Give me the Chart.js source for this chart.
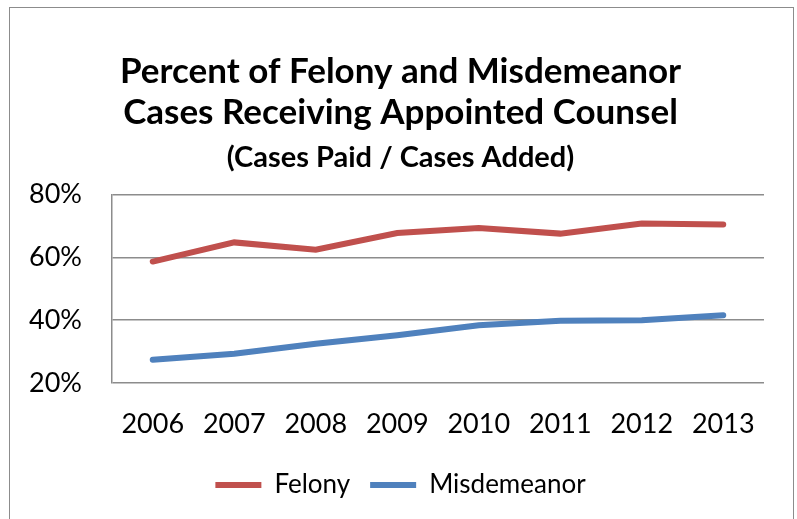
<!DOCTYPE html>
<html>
<head>
<meta charset="utf-8">
<script src="https://cdn.jsdelivr.net/npm/chart.js@4"></script>
<style>
  html, body { margin: 0; padding: 0; background: #fff; }
  #wrap { position: relative; width: 797px; height: 519px; overflow: hidden; }
  #frame { position: absolute; left: 9px; top: 7px; width: 783px; height: 540px; border: 1.5px solid #8c8c8c; }
  #myChart { position: absolute; left: 0; top: 0; }
</style>
</head>
<body>
<div id="wrap">
  <div id="frame"></div>
  <canvas id="myChart" width="797" height="519"></canvas>
</div>
<script>
// chart data
const years = ['2006', '2007', '2008', '2009', '2010', '2011', '2012', '2013'];
const felony = [58.7, 64.8, 62.5, 67.8, 69.4, 67.6, 70.8, 70.5];
const misdemeanor = [27.4, 29.3, 32.5, 35.2, 38.4, 39.8, 40.0, 41.6];
const yTicks = [20, 40, 60, 80];

const font = 'Lato, "DejaVu Sans", sans-serif';

let ctx = document.getElementById('myChart').getContext('2d');
let myChart = new Chart(ctx, {
  type: 'line',
  data: {
    labels: years,
    datasets: [
      {
        label: 'Felony',
        data: felony,
        borderColor: '#C0504D',
        backgroundColor: '#C0504D',
        borderWidth: 6,
        borderCapStyle: 'round',
        pointRadius: 0,
        tension: 0,
      },
      {
        label: 'Misdemeanor',
        data: misdemeanor,
        borderColor: '#4F81BD',
        backgroundColor: '#4F81BD',
        borderWidth: 6,
        borderCapStyle: 'round',
        pointRadius: 0,
        tension: 0,
      },
    ],
  },
  options: {
    responsive: false,
    animation: false,
    layout: { padding: { left: 4, right: 0, top: 0, bottom: 11 } },
    plugins: {
      title: {
        display: true,
        text: ['Percent of Felony and Misdemeanor', 'Cases Receiving Appointed Counsel'],
        color: '#000',
        font: { family: font, size: 35, weight: 'bold', lineHeight: 1.17 },
        padding: { top: 51, bottom: 0 },
      },
      subtitle: {
        display: true,
        text: '(Cases Paid / Cases Added)',
        color: '#000',
        font: { family: font, size: 29, weight: 'bold', lineHeight: 1.2 },
        padding: { top: 7, bottom: 20 },
      },
      legend: {
        position: 'bottom',
        labels: {
          color: '#000',
          font: { family: font, size: 26 },
          usePointStyle: true,
          pointStyle: 'line',
          pointStyleWidth: 46,
          boxHeight: 26,
          padding: 20,
        },
      },
      tooltip: { enabled: false },
    },
    scales: {
      x: {
        offset: true,
        grid: { display: false, drawTicks: false },
        border: { display: false },
        ticks: { color: '#000', font: { family: font, size: 27 }, padding: 25, maxRotation: 0 },
        afterFit: s => { s.height = 69; },
      },
      y: {
        min: 20,
        max: 80,
        afterBuildTicks: s => { s.ticks = yTicks.map(v => ({ value: v })); },
        grid: { color: '#8c8c8c', lineWidth: 1.5, drawTicks: false },
        border: { display: true, color: '#8c8c8c', width: 1.5 },
        ticks: {
          color: '#000',
          font: { family: font, size: 27 },
          padding: 30,
          callback: v => v + '%',
        },
        afterFit: s => { s.width = 108; },
      },
      // empty right-hand gutter so the plot ends before the frame
      gutter: {
        type: 'linear',
        position: 'right',
        grid: { display: false, drawTicks: false },
        border: { display: false },
        ticks: { display: false },
        afterFit: s => { s.width = 33; },
      },
    },
  },
});
</script>
</body>
</html>
